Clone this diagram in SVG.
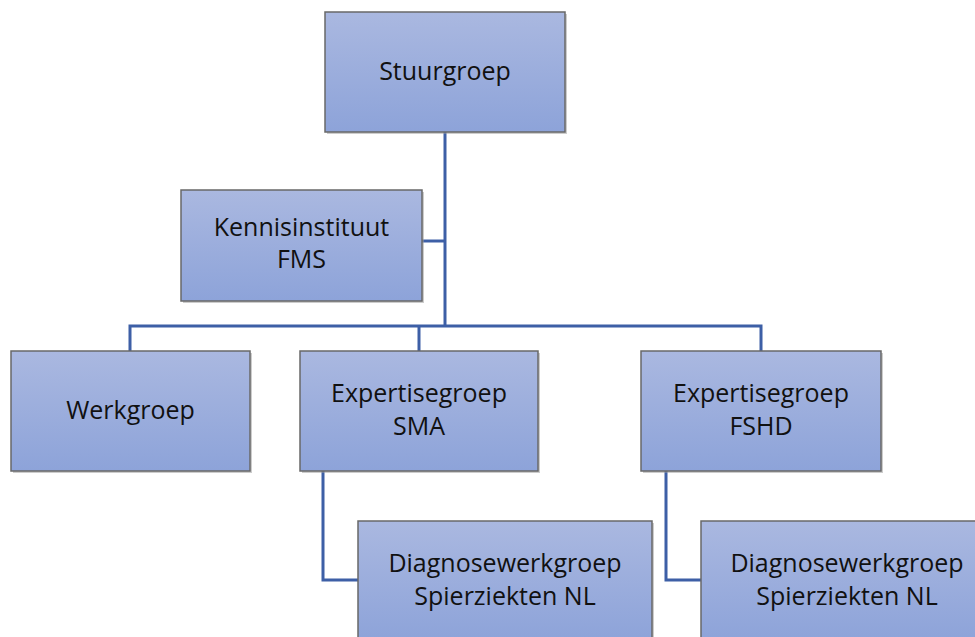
<svg xmlns="http://www.w3.org/2000/svg" width="975" height="637" viewBox="0 0 975 637">
  <style>
    .box { fill: url(#g); stroke: #686868; stroke-width: 1.5; }
    .sh { fill: #9a9a9a; opacity: 0.5; }
    .lbl { font-family: "Open Sans", "Liberation Sans", sans-serif; font-size: 25px; fill: #111; text-anchor: middle; }
    .con { fill: none; stroke: #3d5fa6; stroke-width: 3; }
  </style>
  <defs>
    <linearGradient id="g" x1="0" y1="0" x2="0" y2="1">
      <stop offset="0" stop-color="#aab8e0"/>
      <stop offset="1" stop-color="#8da3d9"/>
    </linearGradient>
  </defs>
  <rect width="975" height="637" fill="#ffffff"/>
  <g id="connectors">
    <path class="con" d="M445,132 V326"/>
    <path class="con" d="M422,241 H445"/>
    <path class="con" d="M130,351 V326 H761 V351"/>
    <path class="con" d="M419,326 V351"/>
    <path class="con" d="M323,471 V580 H358"/>
    <path class="con" d="M666,471 V580 H701"/>
  </g>
  <g id="stuurgroep">
    <rect class="sh" x="327" y="14" width="240" height="120"/>
    <rect class="box" x="325" y="12" width="240" height="120"/>
    <text class="lbl" x="445" y="80">Stuurgroep</text>
  </g>
  <g id="kennisinstituut">
    <rect class="sh" x="183" y="192" width="241" height="111"/>
    <rect class="box" x="181" y="190" width="241" height="111"/>
    <text class="lbl" x="301.5" y="236">Kennisinstituut</text>
    <text class="lbl" x="301.5" y="268">FMS</text>
  </g>
  <g id="werkgroep">
    <rect class="sh" x="13" y="353" width="239" height="120"/>
    <rect class="box" x="11" y="351" width="239" height="120"/>
    <text class="lbl" x="130.5" y="419">Werkgroep</text>
  </g>
  <g id="expertise-sma">
    <rect class="sh" x="302" y="353" width="238" height="120"/>
    <rect class="box" x="300" y="351" width="238" height="120"/>
    <text class="lbl" x="419" y="402">Expertisegroep</text>
    <text class="lbl" x="419" y="435">SMA</text>
  </g>
  <g id="expertise-fshd">
    <rect class="sh" x="643" y="353" width="240" height="120"/>
    <rect class="box" x="641" y="351" width="240" height="120"/>
    <text class="lbl" x="761" y="402">Expertisegroep</text>
    <text class="lbl" x="761" y="435">FSHD</text>
  </g>
  <g id="diagnose-sma">
    <rect class="sh" x="360" y="523" width="294" height="120"/>
    <rect class="box" x="358" y="521" width="294" height="120"/>
    <text class="lbl" x="505" y="572">Diagnosewerkgroep</text>
    <text class="lbl" x="505" y="605">Spierziekten NL</text>
  </g>
  <g id="diagnose-fshd">
    <rect class="sh" x="703" y="523" width="294" height="120"/>
    <rect class="box" x="701" y="521" width="294" height="120"/>
    <text class="lbl" x="847" y="572">Diagnosewerkgroep</text>
    <text class="lbl" x="847" y="605">Spierziekten NL</text>
  </g>
</svg>
